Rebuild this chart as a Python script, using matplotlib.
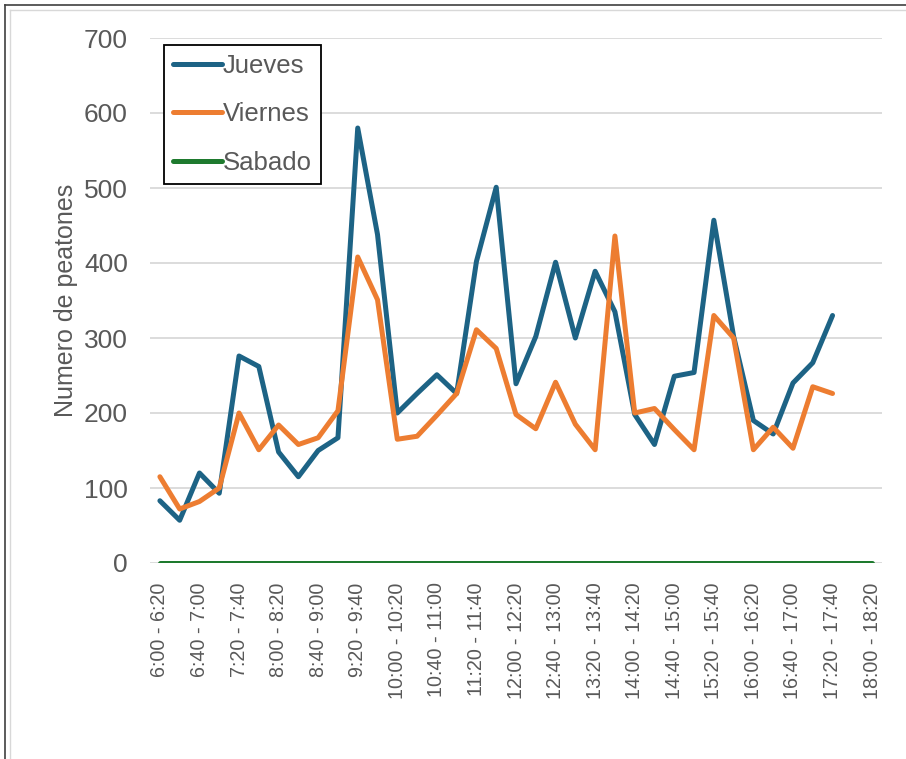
import matplotlib.pyplot as plt
from matplotlib.lines import Line2D

plt.rcParams['font.family'] = ['Liberation Sans', 'DejaVu Sans']

# conteos por intervalo de 20 minutos
intervalos = [
    "6:00 - 6:20", "6:20 - 6:40", "6:40 - 7:00", "7:00 - 7:20", "7:20 - 7:40",
    "7:40 - 8:00", "8:00 - 8:20", "8:20 - 8:40", "8:40 - 9:00", "9:00 - 9:20",
    "9:20 - 9:40", "9:40 - 10:00", "10:00 - 10:20", "10:20 - 10:40",
    "10:40 - 11:00", "11:00 - 11:20", "11:20 - 11:40", "11:40 - 12:00",
    "12:00 - 12:20", "12:20 - 12:40", "12:40 - 13:00", "13:00 - 13:20",
    "13:20 - 13:40", "13:40 - 14:00", "14:00 - 14:20", "14:20 - 14:40",
    "14:40 - 15:00", "15:00 - 15:20", "15:20 - 15:40", "15:40 - 16:00",
    "16:00 - 16:20", "16:20 - 16:40", "16:40 - 17:00", "17:00 - 17:20",
    "17:20 - 17:40", "17:40 - 18:00", "18:00 - 18:20",
]

jueves = [83, 57, 120, 93, 276, 262, 148, 115, 150, 167,
          580, 438, 200, 226, 251, 226, 402, 501, 239, 302,
          401, 300, 389, 335, 198, 158, 249, 254, 457, 302,
          190, 172, 240, 267, 330]

viernes = [115, 72, 82, 100, 200, 151, 184, 158, 167, 203,
           408, 351, 165, 169, 197, 226, 311, 286, 198, 179,
           241, 185, 151, 436, 200, 206, 178, 151, 330, 300,
           151, 181, 153, 235, 226]

sabado = [0, 0, 0, 0, 0, 0, 0, 0, 0, 0, 0, 0, 0, 0, 0, 0, 0, 0, 0,
          0, 0, 0, 0, 0, 0, 0, 0, 0, 0, 0, 0, 0, 0, 0, 0, 0, 0]

y_ticks = [0, 100, 200, 300, 400, 500, 600, 700]

gris = "#595959"

fig = plt.figure(figsize=(9.06, 7.59), dpi=100)
ax = fig.add_axes([150 / 906, (759 - 563) / 759, 732 / 906, 525 / 759])

estilo = dict(lw=3.6, solid_joinstyle="round", solid_capstyle="round")
ax.plot(range(len(jueves)), jueves, color="#1D6385", label="Jueves", **estilo)
ax.plot(range(len(viernes)), viernes, color="#ED7D31", label="Viernes", **estilo)
ax.plot(range(len(sabado)), sabado, color="#1E7A2E", label="Sabado", **estilo)

ax.set_xlim(-0.5, len(intervalos) - 0.5)
ax.set_ylim(0, 700)
ax.set_yticks(y_ticks)
ax.set_xticks(range(0, len(intervalos), 2))
ax.set_xticklabels(intervalos[::2], rotation=90, fontsize=14.2, color=gris)
ax.tick_params(axis="x", length=0, pad=14)
ax.tick_params(axis="y", length=0, pad=16, labelsize=19, labelcolor=gris)

ax.yaxis.grid(True, color="#d9d9d9", lw=1.3)
ax.set_axisbelow(True)
for s in ax.spines.values():
    s.set_visible(False)

ax.set_ylabel("Numero de peatones", fontsize=18, color=gris)
ax.yaxis.set_label_coords(-0.099, 0.5)

leg = ax.legend(loc="upper left", bbox_to_anchor=(0.019, 0.987),
                borderaxespad=0, fontsize=18.5, frameon=True, fancybox=False,
                handlelength=1.9, handletextpad=0.05, labelspacing=0.95,
                borderpad=0.35)
leg.get_frame().set_edgecolor("black")
leg.get_frame().set_linewidth(1.3)
leg.get_frame().set_alpha(1)
for t in leg.get_texts():
    t.set_color(gris)

# marco exterior
fig.add_artist(Line2D([5 / 906, 1], [1 - 5 / 759, 1 - 5 / 759], color="#404040", lw=1.2))
fig.add_artist(Line2D([5 / 906, 5 / 906], [0, 1 - 5 / 759], color="#404040", lw=1.2))
fig.add_artist(Line2D([10 / 906, 1], [1 - 10 / 759, 1 - 10 / 759], color="#d8d8d8", lw=1.0))
fig.add_artist(Line2D([10 / 906, 10 / 906], [0, 1 - 10 / 759], color="#d8d8d8", lw=1.0))

fig.savefig("out.png", dpi=100)
